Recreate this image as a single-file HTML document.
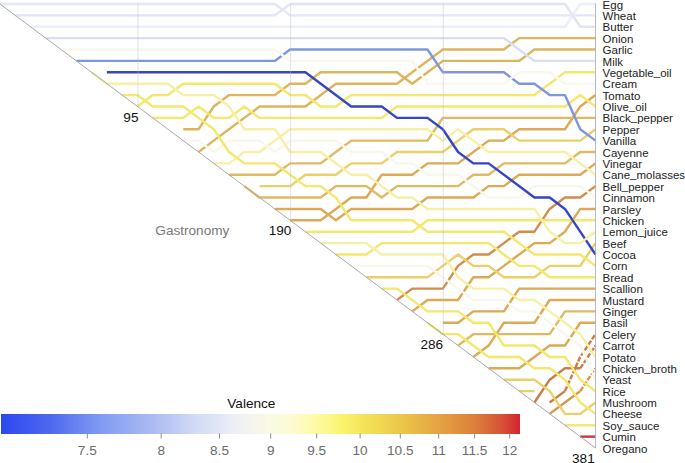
<!DOCTYPE html>
<html><head><meta charset="utf-8"><style>
html,body{margin:0;padding:0;background:#fff;}
body{width:685px;height:463px;position:relative;overflow:hidden;font-family:"Liberation Sans",sans-serif;}
svg{position:absolute;left:0;top:0;}
svg text{font-family:"Liberation Sans",sans-serif;}
.bar{position:absolute;left:1.2px;top:413.5px;width:518.8px;height:20px;
background:linear-gradient(to right,#2b48f0 0%,#4d68ef 9.4%,#7f9af2 19%,#a8b8f2 28.5%,#d4dcf6 38%,#eceff6 45%,#f5f5ee 48.5%,#fafae4 52%,#fcfbd0 56%,#fdfbb0 59.5%,#fcf88a 63%,#faf36c 66%,#f3df56 71%,#ebc84a 76.9%,#e4a242 84.6%,#dc7e3a 91.4%,#d65636 96.2%,#d22430 100%);}
</style></head><body>
<div class="bar"></div>
<svg width="685" height="463" viewBox="0 0 685 463">
<polyline points="580.23,368.32 595.50,345.55" fill="none" stroke="#cc7c44" stroke-width="2.4" stroke-linejoin="round" stroke-dasharray="5 1.5"/>
<polyline points="580.23,391.09 595.50,368.32" fill="none" stroke="#d8964e" stroke-width="2.4" stroke-linejoin="round" stroke-dasharray="5 1.5"/>
<polyline points="580.23,436.63 595.50,436.63" fill="none" stroke="#d03338" stroke-width="2.4" stroke-linejoin="round" />
<polyline points="564.96,425.25 595.50,425.25" fill="none" stroke="#f3e86c" stroke-width="2.4" stroke-linejoin="round" />
<polyline points="564.96,391.09 580.23,356.94 595.50,334.17" fill="none" stroke="#cc7c44" stroke-width="2.4" stroke-linejoin="round" stroke-dasharray="5 1.5"/>
<polyline points="549.69,402.47 564.96,391.09" fill="none" stroke="#cc7c44" stroke-width="2.4" stroke-linejoin="round" />
<polyline points="549.69,413.86 564.96,402.47 580.23,391.09" fill="none" stroke="#d8964e" stroke-width="2.4" stroke-linejoin="round" />
<polyline points="534.42,402.47 549.69,379.70 564.96,368.32 580.23,368.32" fill="none" stroke="#cc7c44" stroke-width="2.4" stroke-linejoin="round" />
<polyline points="519.15,391.09 534.42,391.09" fill="none" stroke="#e9d068" stroke-width="2.4" stroke-linejoin="round" />
<polyline points="503.88,379.70 534.42,379.70 549.69,391.09 564.96,413.86 580.23,413.86 595.50,402.47" fill="none" stroke="#e9d068" stroke-width="2.4" stroke-linejoin="round" />
<polyline points="488.62,368.32 519.15,368.32 534.42,356.94 549.69,345.55 564.96,345.55 580.23,322.78 595.50,322.78" fill="none" stroke="#dda955" stroke-width="2.4" stroke-linejoin="round" />
<polyline points="473.35,356.94 488.62,345.55 503.88,322.78 534.42,322.78 549.69,300.01 595.50,300.01" fill="none" stroke="#dda955" stroke-width="2.4" stroke-linejoin="round" />
<polyline points="458.08,345.55 473.35,334.17 549.69,334.17 564.96,311.39 595.50,311.39" fill="none" stroke="#dfba62" stroke-width="2.4" stroke-linejoin="round" />
<polyline points="442.81,322.78 458.08,322.78 473.35,311.39 503.88,311.39 519.15,288.62 595.50,288.62" fill="none" stroke="#dda955" stroke-width="2.4" stroke-linejoin="round" />
<polyline points="427.54,322.78 442.81,334.17 458.08,334.17 488.62,356.94 519.15,356.94 534.42,368.32 549.69,368.32 564.96,379.70 580.23,402.47 595.50,413.86" fill="none" stroke="#f3e86c" stroke-width="2.4" stroke-linejoin="round" />
<polyline points="412.27,311.39 427.54,300.01 458.08,300.01 473.35,277.24 488.62,277.24 503.88,265.86 519.15,254.47 534.42,243.09 549.69,243.09 564.96,231.70 580.23,208.93 595.50,208.93" fill="none" stroke="#dda955" stroke-width="2.4" stroke-linejoin="round" />
<polyline points="397.00,300.01 412.27,288.62 442.81,288.62 458.08,265.86 473.35,254.47 488.62,254.47 503.88,243.09 519.15,231.70 534.42,231.70 549.69,208.93 564.96,197.54 580.23,197.54 595.50,186.16" fill="none" stroke="#d48c4a" stroke-width="2.4" stroke-linejoin="round" />
<polyline points="381.73,288.62 397.00,288.62 427.54,311.39 458.08,311.39 473.35,322.78 488.62,322.78 503.88,345.55 534.42,345.55 549.69,356.94 564.96,356.94 580.23,379.70 595.50,391.09" fill="none" stroke="#f3e86c" stroke-width="2.4" stroke-linejoin="round" />
<polyline points="366.46,277.24 427.54,277.24 442.81,265.86 458.08,254.47 473.35,265.86 488.62,265.86 503.88,277.24 534.42,277.24 549.69,265.86 580.23,265.86 595.50,243.09" fill="none" stroke="#e9d068" stroke-width="2.4" stroke-linejoin="round" />
<polyline points="351.19,265.86 427.54,265.86 442.81,277.24 458.08,288.62 473.35,300.01 503.88,300.01 519.15,311.39 534.42,311.39 549.69,322.78 564.96,334.17 580.23,345.55 595.50,379.70" fill="none" stroke="#f7f7ec" stroke-width="2.4" stroke-linejoin="round" />
<polyline points="335.92,254.47 366.46,254.47 381.73,243.09 488.62,243.09 503.88,254.47 519.15,265.86 534.42,265.86 549.69,277.24 595.50,277.24" fill="none" stroke="#f3e86c" stroke-width="2.4" stroke-linejoin="round" />
<polyline points="320.65,243.09 366.46,243.09 381.73,254.47 442.81,254.47 458.08,277.24 473.35,288.62 503.88,288.62 519.15,300.01 534.42,300.01 549.69,311.39 564.96,322.78 580.23,334.17 595.50,356.94" fill="none" stroke="#f6f0a6" stroke-width="2.4" stroke-linejoin="round" />
<polyline points="305.38,231.70 412.27,231.70 427.54,220.31 595.50,220.31" fill="none" stroke="#f3e86c" stroke-width="2.4" stroke-linejoin="round" />
<polyline points="290.12,220.31 320.65,220.31 335.92,208.93 351.19,197.54 366.46,197.54 381.73,174.78 412.27,174.78 427.54,163.39 458.08,163.39 473.35,152.00 488.62,140.62 503.88,140.62 519.15,129.24 564.96,129.24 580.23,106.47 595.50,95.08" fill="none" stroke="#dda955" stroke-width="2.4" stroke-linejoin="round" />
<polyline points="274.85,208.93 320.65,208.93 335.92,220.31 351.19,208.93 412.27,208.93 427.54,197.54 473.35,197.54 488.62,186.16 503.88,186.16 519.15,174.78 580.23,174.78 595.50,163.39" fill="none" stroke="#dda955" stroke-width="2.4" stroke-linejoin="round" />
<polyline points="259.58,186.16 290.12,186.16 305.38,174.78 335.92,174.78 351.19,163.39 381.73,163.39 397.00,152.00 442.81,152.00 458.08,140.62 473.35,129.24 503.88,129.24 519.15,140.62 580.23,140.62 595.50,129.24" fill="none" stroke="#e9d068" stroke-width="2.4" stroke-linejoin="round" />
<polyline points="244.31,186.16 259.58,197.54 320.65,197.54 335.92,186.16 366.46,186.16 381.73,197.54 397.00,186.16 458.08,186.16 473.35,174.78 488.62,174.78 503.88,163.39 564.96,163.39 580.23,152.00 595.50,152.00" fill="none" stroke="#dfba62" stroke-width="2.4" stroke-linejoin="round" />
<polyline points="229.04,174.78 274.85,174.78 290.12,163.39 320.65,163.39 335.92,152.00 351.19,140.62 427.54,140.62 442.81,117.85 595.50,117.85" fill="none" stroke="#dfba62" stroke-width="2.4" stroke-linejoin="round" />
<polyline points="213.77,163.39 229.04,163.39 244.31,152.00 259.58,152.00 274.85,140.62 290.12,129.24 427.54,129.24 442.81,140.62 458.08,129.24 473.35,140.62 488.62,152.00 564.96,152.00 595.50,174.78" fill="none" stroke="#f6f0a6" stroke-width="2.4" stroke-linejoin="round" />
<polyline points="198.50,152.00 213.77,140.62 229.04,129.24 244.31,117.85 259.58,106.47 305.38,106.47 335.92,83.69 397.00,83.69 412.27,72.31 442.81,49.54 503.88,49.54 519.15,38.16 595.50,38.16" fill="none" stroke="#dfb45c" stroke-width="2.4" stroke-linejoin="round" />
<polyline points="183.23,129.24 198.50,129.24 213.77,106.47 229.04,95.08 274.85,95.08 290.12,83.69 305.38,83.69 320.65,72.31 397.00,72.31 412.27,83.69 427.54,72.31 442.81,60.92 519.15,60.92 534.42,49.54 595.50,49.54" fill="none" stroke="#dfb45c" stroke-width="2.4" stroke-linejoin="round" />
<polyline points="183.23,140.62 198.50,140.62 213.77,152.00 229.04,140.62 259.58,140.62 274.85,152.00 290.12,140.62 335.92,140.62 351.19,152.00 381.73,152.00 397.00,163.39 412.27,163.39 427.54,174.78 458.08,174.78 488.62,197.54 519.15,197.54 534.42,186.16 580.23,186.16 595.50,197.54" fill="none" stroke="#f7f7ec" stroke-width="2.4" stroke-linejoin="round" />
<polyline points="152.69,117.85 183.23,117.85 198.50,106.47 213.77,117.85 229.04,117.85 244.31,106.47 259.58,117.85 381.73,117.85 397.00,106.47 564.96,106.47 580.23,95.08 595.50,106.47" fill="none" stroke="#f3e86c" stroke-width="2.4" stroke-linejoin="round" />
<polyline points="137.42,106.47 152.69,95.08 167.96,95.08 183.23,83.69 274.85,83.69 290.12,95.08 305.38,95.08 320.65,106.47 335.92,106.47 351.19,95.08 534.42,95.08 564.96,72.31 595.50,72.31" fill="none" stroke="#f3e86c" stroke-width="2.4" stroke-linejoin="round" />
<polyline points="122.15,95.08 137.42,95.08 152.69,106.47 183.23,106.47 198.50,117.85 213.77,129.24 229.04,152.00 244.31,163.39 274.85,163.39 290.12,174.78 305.38,186.16 320.65,186.16 335.92,197.54 351.19,220.31 412.27,220.31 427.54,231.70 503.88,231.70 519.15,243.09 534.42,254.47 580.23,254.47 595.50,265.86" fill="none" stroke="#f3e86c" stroke-width="2.4" stroke-linejoin="round" />
<polyline points="106.88,72.31 305.38,72.31 351.19,106.47 381.73,106.47 397.00,117.85 427.54,117.85 442.81,129.24 458.08,152.00 473.35,163.39 488.62,163.39 534.42,197.54 549.69,197.54 564.96,208.93 580.23,231.70 595.50,254.47" fill="none" stroke="#3446c6" stroke-width="2.4" stroke-linejoin="round" />
<polyline points="91.62,72.31 106.88,83.69 167.96,83.69 183.23,95.08 213.77,95.08 229.04,106.47 244.31,129.24 274.85,129.24 290.12,152.00 320.65,152.00 351.19,174.78 366.46,174.78 381.73,186.16 397.00,197.54 412.27,197.54 427.54,208.93 534.42,208.93 549.69,231.70 564.96,243.09 580.23,243.09 595.50,231.70" fill="none" stroke="#f6f0a6" stroke-width="2.4" stroke-linejoin="round" />
<polyline points="76.35,60.92 274.85,60.92 290.12,49.54 427.54,49.54 442.81,72.31 503.88,72.31 519.15,83.69 534.42,83.69 549.69,95.08 564.96,95.08 580.23,129.24 595.50,140.62" fill="none" stroke="#8096dc" stroke-width="2.4" stroke-linejoin="round" />
<polyline points="61.08,49.54 274.85,49.54 290.12,60.92 412.27,60.92 427.54,83.69 503.88,83.69 519.15,72.31 549.69,72.31 564.96,83.69 595.50,83.69" fill="none" stroke="#f8f8ec" stroke-width="2.4" stroke-linejoin="round" />
<polyline points="45.81,38.16 503.88,38.16 534.42,60.92 595.50,60.92" fill="none" stroke="#d8def4" stroke-width="2.4" stroke-linejoin="round" />
<polyline points="30.54,26.77 564.96,26.77 580.23,4.00 595.50,4.00" fill="none" stroke="#eceef8" stroke-width="2.4" stroke-linejoin="round" />
<polyline points="15.27,15.38 274.85,15.38 290.12,4.00 564.96,4.00 580.23,26.77 595.50,26.77" fill="none" stroke="#e0e4f5" stroke-width="2.4" stroke-linejoin="round" />
<polyline points="0.00,4.00 274.85,4.00 290.12,15.38 595.50,15.38" fill="none" stroke="#e4e7f6" stroke-width="2.4" stroke-linejoin="round" />
<line x1="137.92" y1="3.2" x2="137.92" y2="106.47" stroke="#b8bac8" stroke-opacity="0.42" stroke-width="1"/>
<line x1="290.62" y1="3.2" x2="290.62" y2="220.31" stroke="#b8bac8" stroke-opacity="0.42" stroke-width="1"/>
<line x1="443.31" y1="3.2" x2="443.31" y2="334.17" stroke="#b8bac8" stroke-opacity="0.42" stroke-width="1"/>
<line x1="595.5" y1="3.2" x2="595.5" y2="448.01" stroke="#a8a8b6" stroke-opacity="0.8" stroke-width="1"/>
<line x1="0" y1="4.00" x2="595.5" y2="448.01" stroke="#a9a9ae" stroke-width="1"/>
<text x="602.6" y="8.60" font-size="11.5" fill="#222">Egg</text>
<text x="602.6" y="19.98" font-size="11.5" fill="#222">Wheat</text>
<text x="602.6" y="31.37" font-size="11.5" fill="#222">Butter</text>
<text x="602.6" y="42.76" font-size="11.5" fill="#222">Onion</text>
<text x="602.6" y="54.14" font-size="11.5" fill="#222">Garlic</text>
<text x="602.6" y="65.52" font-size="11.5" fill="#222">Milk</text>
<text x="602.6" y="76.91" font-size="11.5" fill="#222">Vegetable<tspan dy="-1.2">_</tspan><tspan dy="1.2">oil</tspan></text>
<text x="602.6" y="88.29" font-size="11.5" fill="#222">Cream</text>
<text x="602.6" y="99.68" font-size="11.5" fill="#222">Tomato</text>
<text x="602.6" y="111.06" font-size="11.5" fill="#222">Olive<tspan dy="-1.2">_</tspan><tspan dy="1.2">oil</tspan></text>
<text x="602.6" y="122.45" font-size="11.5" fill="#222">Black<tspan dy="-1.2">_</tspan><tspan dy="1.2">pepper</tspan></text>
<text x="602.6" y="133.84" font-size="11.5" fill="#222">Pepper</text>
<text x="602.6" y="145.22" font-size="11.5" fill="#222">Vanilla</text>
<text x="602.6" y="156.60" font-size="11.5" fill="#222">Cayenne</text>
<text x="602.6" y="167.99" font-size="11.5" fill="#222">Vinegar</text>
<text x="602.6" y="179.38" font-size="11.5" fill="#222">Cane<tspan dy="-1.2">_</tspan><tspan dy="1.2">molasses</tspan></text>
<text x="602.6" y="190.76" font-size="11.5" fill="#222">Bell<tspan dy="-1.2">_</tspan><tspan dy="1.2">pepper</tspan></text>
<text x="602.6" y="202.14" font-size="11.5" fill="#222">Cinnamon</text>
<text x="602.6" y="213.53" font-size="11.5" fill="#222">Parsley</text>
<text x="602.6" y="224.91" font-size="11.5" fill="#222">Chicken</text>
<text x="602.6" y="236.30" font-size="11.5" fill="#222">Lemon<tspan dy="-1.2">_</tspan><tspan dy="1.2">juice</tspan></text>
<text x="602.6" y="247.69" font-size="11.5" fill="#222">Beef</text>
<text x="602.6" y="259.07" font-size="11.5" fill="#222">Cocoa</text>
<text x="602.6" y="270.46" font-size="11.5" fill="#222">Corn</text>
<text x="602.6" y="281.84" font-size="11.5" fill="#222">Bread</text>
<text x="602.6" y="293.23" font-size="11.5" fill="#222">Scallion</text>
<text x="602.6" y="304.61" font-size="11.5" fill="#222">Mustard</text>
<text x="602.6" y="316.00" font-size="11.5" fill="#222">Ginger</text>
<text x="602.6" y="327.38" font-size="11.5" fill="#222">Basil</text>
<text x="602.6" y="338.77" font-size="11.5" fill="#222">Celery</text>
<text x="602.6" y="350.15" font-size="11.5" fill="#222">Carrot</text>
<text x="602.6" y="361.54" font-size="11.5" fill="#222">Potato</text>
<text x="602.6" y="372.92" font-size="11.5" fill="#222">Chicken<tspan dy="-1.2">_</tspan><tspan dy="1.2">broth</tspan></text>
<text x="602.6" y="384.31" font-size="11.5" fill="#222">Yeast</text>
<text x="602.6" y="395.69" font-size="11.5" fill="#222">Rice</text>
<text x="602.6" y="407.07" font-size="11.5" fill="#222">Mushroom</text>
<text x="602.6" y="418.46" font-size="11.5" fill="#222">Cheese</text>
<text x="602.6" y="429.85" font-size="11.5" fill="#222">Soy<tspan dy="-1.2">_</tspan><tspan dy="1.2">sauce</tspan></text>
<text x="602.6" y="441.23" font-size="11.5" fill="#222">Cumin</text>
<text x="602.6" y="452.62" font-size="11.5" fill="#222">Oregano</text>
<text x="130.9" y="121.7" font-size="13.6" text-anchor="middle" fill="#111">95</text>
<text x="280.1" y="235.0" font-size="13.6" text-anchor="middle" fill="#111">190</text>
<text x="431.75" y="349.0" font-size="13.6" text-anchor="middle" fill="#111">286</text>
<text x="583.4" y="462.7" font-size="13.6" text-anchor="middle" fill="#111">381</text>
<text x="192.35" y="235.2" font-size="13.6" text-anchor="middle" fill="#787878">Gastronomy</text>
<text x="251.35" y="407.8" font-size="13.6" text-anchor="middle" fill="#111">Valence</text>
<line x1="87.3" y1="433.5" x2="87.3" y2="438.5" stroke="#8a8a8a" stroke-width="1"/>
<text x="87.3" y="454.6" font-size="13.6" text-anchor="middle" fill="#6b6b6b">7.5</text>
<line x1="161.2" y1="433.5" x2="161.2" y2="438.5" stroke="#8a8a8a" stroke-width="1"/>
<text x="161.2" y="454.6" font-size="13.6" text-anchor="middle" fill="#6b6b6b">8</text>
<line x1="219.5" y1="433.5" x2="219.5" y2="438.5" stroke="#8a8a8a" stroke-width="1"/>
<text x="219.5" y="454.6" font-size="13.6" text-anchor="middle" fill="#6b6b6b">8.5</text>
<line x1="270.7" y1="433.5" x2="270.7" y2="438.5" stroke="#8a8a8a" stroke-width="1"/>
<text x="270.7" y="454.6" font-size="13.6" text-anchor="middle" fill="#6b6b6b">9</text>
<line x1="316.7" y1="433.5" x2="316.7" y2="438.5" stroke="#8a8a8a" stroke-width="1"/>
<text x="316.7" y="454.6" font-size="13.6" text-anchor="middle" fill="#6b6b6b">9.5</text>
<line x1="360.1" y1="433.5" x2="360.1" y2="438.5" stroke="#8a8a8a" stroke-width="1"/>
<text x="360.1" y="454.6" font-size="13.6" text-anchor="middle" fill="#6b6b6b">10</text>
<line x1="400.3" y1="433.5" x2="400.3" y2="438.5" stroke="#8a8a8a" stroke-width="1"/>
<text x="400.3" y="454.6" font-size="13.6" text-anchor="middle" fill="#6b6b6b">10.5</text>
<line x1="438.7" y1="433.5" x2="438.7" y2="438.5" stroke="#8a8a8a" stroke-width="1"/>
<text x="438.7" y="454.6" font-size="13.6" text-anchor="middle" fill="#6b6b6b">11</text>
<line x1="474.6" y1="433.5" x2="474.6" y2="438.5" stroke="#8a8a8a" stroke-width="1"/>
<text x="474.6" y="454.6" font-size="13.6" text-anchor="middle" fill="#6b6b6b">11.5</text>
<line x1="509.7" y1="433.5" x2="509.7" y2="438.5" stroke="#8a8a8a" stroke-width="1"/>
<text x="509.7" y="454.6" font-size="13.6" text-anchor="middle" fill="#6b6b6b">12</text>
</svg>
</body></html>
